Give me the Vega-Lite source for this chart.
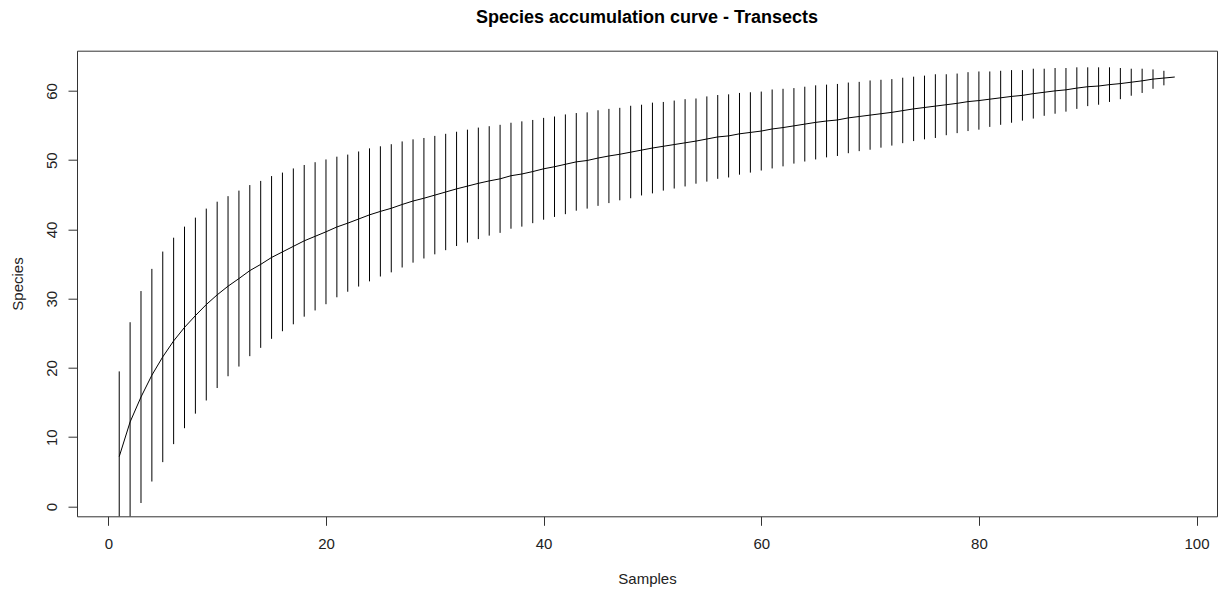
{
  "$schema": "https://vega.github.io/schema/vega-lite/v6.json",
  "width": 1140,
  "height": 465.6,
  "autosize": {"type": "none"},
  "padding": {"left": 77, "top": 50.7, "right": 1, "bottom": 73.7},
  "background": "white",
  "title": {
    "text": "Species accumulation curve - Transects",
    "font": "Liberation Sans",
    "fontSize": 18,
    "fontWeight": "bold",
    "color": "black",
    "anchor": "middle",
    "offset": 24
  },
  "config": {
    "view": {"stroke": "#333", "strokeWidth": 1},
    "axis": {
      "grid": false,
      "domain": false,
      "tickColor": "#333",
      "tickSize": 9,
      "labelFont": "Liberation Sans",
      "labelFontSize": 15,
      "labelColor": "#222",
      "titleFont": "Liberation Sans",
      "titleFontSize": 15,
      "titleFontWeight": "normal",
      "titleColor": "#222"
    }
  },
  "data": {
    "values": [
      {"sample": 1, "richness": 7.2, "lo": -5.1, "hi": 19.5},
      {"sample": 2, "richness": 12.2, "lo": -2.2, "hi": 26.6},
      {"sample": 3, "richness": 15.8, "lo": 0.5, "hi": 31.1},
      {"sample": 4, "richness": 18.95, "lo": 3.6, "hi": 34.3},
      {"sample": 5, "richness": 21.6, "lo": 6.4, "hi": 36.8},
      {"sample": 6, "richness": 23.9, "lo": 9.0, "hi": 38.8},
      {"sample": 7, "richness": 25.85, "lo": 11.3, "hi": 40.4},
      {"sample": 8, "richness": 27.55, "lo": 13.4, "hi": 41.7},
      {"sample": 9, "richness": 29.15, "lo": 15.3, "hi": 43.0},
      {"sample": 10, "richness": 30.55, "lo": 17.1, "hi": 44.0},
      {"sample": 11, "richness": 31.8, "lo": 18.8, "hi": 44.8},
      {"sample": 12, "richness": 32.9, "lo": 20.2, "hi": 45.6},
      {"sample": 13, "richness": 34.05, "lo": 21.7, "hi": 46.4},
      {"sample": 14, "richness": 34.95, "lo": 22.9, "hi": 47.0},
      {"sample": 15, "richness": 35.95, "lo": 24.2, "hi": 47.7},
      {"sample": 16, "richness": 36.75, "lo": 25.3, "hi": 48.2},
      {"sample": 17, "richness": 37.55, "lo": 26.3, "hi": 48.8},
      {"sample": 18, "richness": 38.35, "lo": 27.4, "hi": 49.3},
      {"sample": 19, "richness": 39.0, "lo": 28.3, "hi": 49.7},
      {"sample": 20, "richness": 39.65, "lo": 29.2, "hi": 50.1},
      {"sample": 21, "richness": 40.35, "lo": 30.2, "hi": 50.5},
      {"sample": 22, "richness": 40.9, "lo": 31.0, "hi": 50.8},
      {"sample": 23, "richness": 41.5, "lo": 31.75, "hi": 51.25},
      {"sample": 24, "richness": 42.1, "lo": 32.5, "hi": 51.7},
      {"sample": 25, "richness": 42.6, "lo": 33.2, "hi": 52.0},
      {"sample": 26, "richness": 43.05, "lo": 33.8, "hi": 52.3},
      {"sample": 27, "richness": 43.6, "lo": 34.5, "hi": 52.7},
      {"sample": 28, "richness": 44.1, "lo": 35.2, "hi": 53.0},
      {"sample": 29, "richness": 44.5, "lo": 35.8, "hi": 53.2},
      {"sample": 30, "richness": 44.95, "lo": 36.4, "hi": 53.5},
      {"sample": 31, "richness": 45.4, "lo": 37.0, "hi": 53.8},
      {"sample": 32, "richness": 45.85, "lo": 37.6, "hi": 54.1},
      {"sample": 33, "richness": 46.25, "lo": 38.1, "hi": 54.4},
      {"sample": 34, "richness": 46.65, "lo": 38.6, "hi": 54.7},
      {"sample": 35, "richness": 47.0, "lo": 39.1, "hi": 54.9},
      {"sample": 36, "richness": 47.3, "lo": 39.5, "hi": 55.1},
      {"sample": 37, "richness": 47.75, "lo": 40.1, "hi": 55.4},
      {"sample": 38, "richness": 48.0, "lo": 40.4, "hi": 55.6},
      {"sample": 39, "richness": 48.35, "lo": 40.9, "hi": 55.8},
      {"sample": 40, "richness": 48.75, "lo": 41.4, "hi": 56.1},
      {"sample": 41, "richness": 49.05, "lo": 41.8, "hi": 56.3},
      {"sample": 42, "richness": 49.4, "lo": 42.2, "hi": 56.6},
      {"sample": 43, "richness": 49.75, "lo": 42.7, "hi": 56.8},
      {"sample": 44, "richness": 49.95, "lo": 43.0, "hi": 56.9},
      {"sample": 45, "richness": 50.3, "lo": 43.4, "hi": 57.2},
      {"sample": 46, "richness": 50.6, "lo": 43.8, "hi": 57.4},
      {"sample": 47, "richness": 50.85, "lo": 44.2, "hi": 57.55},
      {"sample": 48, "richness": 51.15, "lo": 44.5, "hi": 57.85},
      {"sample": 49, "richness": 51.45, "lo": 44.9, "hi": 58.0},
      {"sample": 50, "richness": 51.75, "lo": 45.2, "hi": 58.3},
      {"sample": 51, "richness": 52.0, "lo": 45.6, "hi": 58.4},
      {"sample": 52, "richness": 52.25, "lo": 45.9, "hi": 58.6},
      {"sample": 53, "richness": 52.5, "lo": 46.2, "hi": 58.8},
      {"sample": 54, "richness": 52.75, "lo": 46.6, "hi": 58.9},
      {"sample": 55, "richness": 53.05, "lo": 46.9, "hi": 59.2},
      {"sample": 56, "richness": 53.35, "lo": 47.3, "hi": 59.4},
      {"sample": 57, "richness": 53.5, "lo": 47.5, "hi": 59.5},
      {"sample": 58, "richness": 53.8, "lo": 47.9, "hi": 59.7},
      {"sample": 59, "richness": 54.0, "lo": 48.2, "hi": 59.8},
      {"sample": 60, "richness": 54.2, "lo": 48.5, "hi": 59.9},
      {"sample": 61, "richness": 54.5, "lo": 48.8, "hi": 60.2},
      {"sample": 62, "richness": 54.7, "lo": 49.1, "hi": 60.3},
      {"sample": 63, "richness": 54.95, "lo": 49.5, "hi": 60.4},
      {"sample": 64, "richness": 55.2, "lo": 49.8, "hi": 60.6},
      {"sample": 65, "richness": 55.45, "lo": 50.1, "hi": 60.8},
      {"sample": 66, "richness": 55.65, "lo": 50.4, "hi": 60.9},
      {"sample": 67, "richness": 55.8, "lo": 50.6, "hi": 61.0},
      {"sample": 68, "richness": 56.1, "lo": 51.0, "hi": 61.2},
      {"sample": 69, "richness": 56.3, "lo": 51.3, "hi": 61.3},
      {"sample": 70, "richness": 56.5, "lo": 51.5, "hi": 61.5},
      {"sample": 71, "richness": 56.7, "lo": 51.8, "hi": 61.6},
      {"sample": 72, "richness": 56.9, "lo": 52.1, "hi": 61.7},
      {"sample": 73, "richness": 57.15, "lo": 52.45, "hi": 61.9},
      {"sample": 74, "richness": 57.4, "lo": 52.75, "hi": 62.05},
      {"sample": 75, "richness": 57.6, "lo": 53.0, "hi": 62.2},
      {"sample": 76, "richness": 57.8, "lo": 53.2, "hi": 62.4},
      {"sample": 77, "richness": 58.0, "lo": 53.6, "hi": 62.4},
      {"sample": 78, "richness": 58.2, "lo": 53.9, "hi": 62.5},
      {"sample": 79, "richness": 58.45, "lo": 54.2, "hi": 62.7},
      {"sample": 80, "richness": 58.6, "lo": 54.4, "hi": 62.8},
      {"sample": 81, "richness": 58.8, "lo": 54.8, "hi": 62.8},
      {"sample": 82, "richness": 59.0, "lo": 55.1, "hi": 62.9},
      {"sample": 83, "richness": 59.2, "lo": 55.4, "hi": 63.0},
      {"sample": 84, "richness": 59.35, "lo": 55.7, "hi": 63.0},
      {"sample": 85, "richness": 59.6, "lo": 56.0, "hi": 63.2},
      {"sample": 86, "richness": 59.8, "lo": 56.4, "hi": 63.2},
      {"sample": 87, "richness": 60.0, "lo": 56.7, "hi": 63.3},
      {"sample": 88, "richness": 60.15, "lo": 57.0, "hi": 63.3},
      {"sample": 89, "richness": 60.4, "lo": 57.4, "hi": 63.4},
      {"sample": 90, "richness": 60.6, "lo": 57.8, "hi": 63.4},
      {"sample": 91, "richness": 60.7, "lo": 58.0, "hi": 63.4},
      {"sample": 92, "richness": 60.9, "lo": 58.4, "hi": 63.4},
      {"sample": 93, "richness": 61.05, "lo": 58.8, "hi": 63.3},
      {"sample": 94, "richness": 61.25, "lo": 59.3, "hi": 63.2},
      {"sample": 95, "richness": 61.45, "lo": 59.7, "hi": 63.2},
      {"sample": 96, "richness": 61.7, "lo": 60.3, "hi": 63.1},
      {"sample": 97, "richness": 61.85, "lo": 60.8, "hi": 62.9},
      {"sample": 98, "richness": 62.0, "lo": 62.0, "hi": 62.0}
    ]
  },
  "layer": [
    {
      "mark": {"type": "rule", "color": "black", "strokeWidth": 1, "clip": true},
      "encoding": {
        "x": {
          "field": "sample", "type": "quantitative",
          "scale": {"domain": [-2.88, 101.88], "nice": false, "zero": false},
          "axis": {"values": [0, 20, 40, 60, 80, 100], "title": "Samples", "labelPadding": 11, "titlePadding": 20}
        },
        "y": {
          "field": "lo", "type": "quantitative",
          "scale": {"domain": [-1.42, 65.8], "nice": false, "zero": false},
          "axis": {"values": [0, 10, 20, 30, 40, 50, 60], "title": "Species", "labelAngle": -90, "labelAlign": "center", "labelBaseline": "bottom", "labelPadding": 9, "titlePadding": 19}
        },
        "y2": {"field": "hi"}
      }
    },
    {
      "mark": {"type": "line", "color": "black", "strokeWidth": 1, "clip": true},
      "encoding": {
        "x": {"field": "sample", "type": "quantitative"},
        "y": {"field": "richness", "type": "quantitative"}
      }
    }
  ]
}
